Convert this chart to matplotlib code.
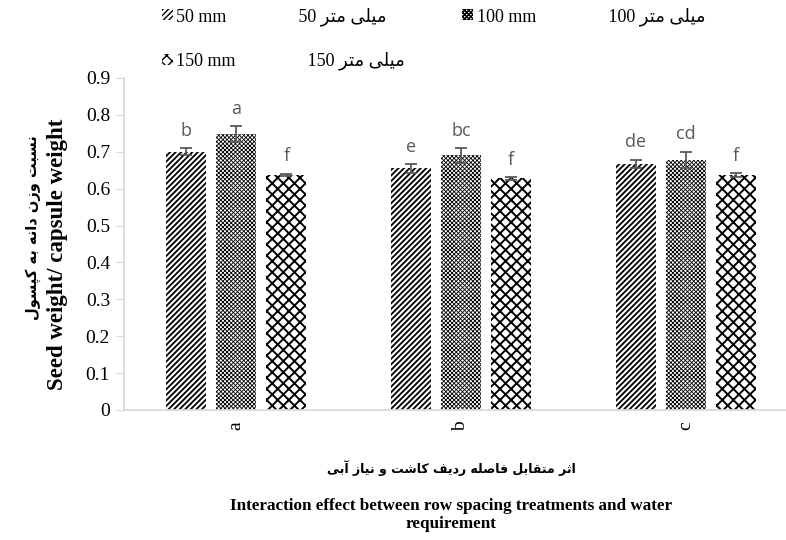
import re
import numpy as np
import matplotlib
matplotlib.use('Agg')
import matplotlib.pyplot as plt

# data
groups = ['a', 'b', 'c']
series_en = ['50 mm', '100 mm', '150 mm']
series_num = ['50', '100', '150']
values = [
    [0.700, 0.655, 0.667],   # 50 mm
    [0.748, 0.690, 0.678],   # 100 mm
    [0.637, 0.628, 0.637],   # 150 mm
]
errors = [
    [0.010, 0.012, 0.012],
    [0.022, 0.020, 0.022],
    [0.004, 0.004, 0.005],
]
letters = [
    ['b', 'e', 'de'],
    ['a', 'bc', 'cd'],
    ['f', 'f', 'f'],
]
yticks = [0, 0.1, 0.2, 0.3, 0.4, 0.5, 0.6, 0.7, 0.8, 0.9]

fa_unit = 'میلی متر'
fa_ylabel = 'نسبت وزن دانه به کپسول'
fa_xlabel = 'اثر متقابل فاصله ردیف کاشت و نیاز آبی'
en_ylabel = 'Seed weight/ capsule weight'
en_xlabel = 'Interaction effect between row spacing treatments and water\nrequirement'

# small persian shaper (no reshaper lib available)
FORMS = {
    'ا': ('\uFE8D', '\uFE8E', None, None),
    'آ': ('\uFE81', '\uFE82', None, None),
    'ب': ('\uFE8F', '\uFE90', '\uFE91', '\uFE92'),
    'پ': ('\uFB56', '\uFB57', '\uFB58', '\uFB59'),
    'ت': ('\uFE95', '\uFE96', '\uFE97', '\uFE98'),
    'ث': ('\uFE99', '\uFE9A', '\uFE9B', '\uFE9C'),
    'د': ('\uFEA9', '\uFEAA', None, None),
    'ر': ('\uFEAD', '\uFEAE', None, None),
    'ز': ('\uFEAF', '\uFEB0', None, None),
    'س': ('\uFEB1', '\uFEB2', '\uFEB3', '\uFEB4'),
    'ش': ('\uFEB5', '\uFEB6', '\uFEB7', '\uFEB8'),
    'ص': ('\uFEB9', '\uFEBA', '\uFEBB', '\uFEBC'),
    'ف': ('\uFED1', '\uFED2', '\uFED3', '\uFED4'),
    'ق': ('\uFED5', '\uFED6', '\uFED7', '\uFED8'),
    'ک': ('\uFB8E', '\uFB8F', '\uFB90', '\uFB91'),
    'ل': ('\uFEDD', '\uFEDE', '\uFEDF', '\uFEE0'),
    'م': ('\uFEE1', '\uFEE2', '\uFEE3', '\uFEE4'),
    'ن': ('\uFEE5', '\uFEE6', '\uFEE7', '\uFEE8'),
    'ه': ('\uFEE9', '\uFEEA', '\uFEEB', '\uFEEC'),
    'و': ('\uFEED', '\uFEEE', None, None),
    'ی': ('\uFBFC', '\uFBFD', '\uFBFE', '\uFBFF'),
}


def fa(text):
    out = []
    for i, ch in enumerate(text):
        if ch not in FORMS:
            out.append(ch)
            continue
        prev = text[i - 1] if i > 0 else ''
        nxt = text[i + 1] if i + 1 < len(text) else ''
        join_prev = prev in FORMS and FORMS[prev][2] is not None
        join_next = FORMS[ch][2] is not None and nxt in FORMS
        iso, fin, ini, med = FORMS[ch]
        if join_prev and join_next:
            out.append(med)
        elif join_prev:
            out.append(fin)
        elif join_next:
            out.append(ini)
        else:
            out.append(iso)
    vis = ''.join(out)[::-1]
    return re.sub(r'\d+', lambda m: m.group()[::-1], vis)


serif = ['Liberation Serif', 'DejaVu Sans']
gray = '#595959'
axis_gray = '#D9D9D9'

fig = plt.figure(figsize=(7.86, 5.40), dpi=100)
ax = fig.add_axes([124 / 786, 130 / 540, 674 / 786, 332 / 540])

hatches = ['//////', 'xxxxxxxx', 'xxx']
hatch_lw = [1.3, 0.6, 1.4]
width = 0.178
step = 0.2225
x = np.arange(len(groups))

for i in range(3):
    xs = x + (i - 1) * step
    label = series_en[i] + ' ' * 16 + fa(fa_unit + ' ' + series_num[i])
    with plt.rc_context({'hatch.linewidth': hatch_lw[i]}):
        ax.bar(xs, values[i], width, color='white', edgecolor='black',
               linewidth=0, hatch=hatches[i], label=label)
    ax.errorbar(xs, values[i], yerr=errors[i], fmt='none', ecolor=gray,
                elinewidth=1.3, capsize=4, capthick=1.3)
    for j in range(len(groups)):
        ax.annotate(letters[i][j], (xs[j], values[i][j] + errors[i][j]),
                    xytext=(0, 6), textcoords='offset points', ha='center',
                    va='bottom', fontsize=13, color=gray, family='Open Sans')

ax.set_xlim(-0.5, 2.5)
ax.set_ylim(0, 0.9)
ax.set_yticks(yticks)
ax.set_yticklabels([f'{t:g}' for t in yticks], family=serif, fontsize=14)
ax.set_xticks(x)
ax.set_xticklabels(groups, rotation=90, family=serif, fontsize=14)
ax.tick_params(axis='x', length=0, pad=8)
ax.tick_params(axis='y', length=6, color=axis_gray, pad=4)
for s in ['top', 'right']:
    ax.spines[s].set_visible(False)
for s in ['left', 'bottom']:
    ax.spines[s].set_color(axis_gray)
    ax.spines[s].set_linewidth(1.3)

# legend filled row-wise: 50, 100 / 150
order = [0, 2, 1]
handles, labels = ax.get_legend_handles_labels()
fig.legend([handles[k] for k in order], [labels[k] for k in order],
           loc='upper left', bbox_to_anchor=(162 / 786, 1 - 7 / 540), ncol=2,
           frameon=False, prop={'family': serif, 'size': 13},
           handlelength=0.6, handleheight=0.6, handletextpad=0.2,
           columnspacing=3.15, labelspacing=1.45, borderaxespad=0,
           borderpad=0)

fig.text(33 / 786, 1 - 228 / 540, fa(fa_ylabel), rotation=90, ha='center',
         va='center', fontsize=10.5, family='DejaVu Sans', fontweight='bold')
fig.text(57 / 786, 1 - 254 / 540, en_ylabel, rotation=90, ha='center',
         va='center', fontsize=16.5, family=serif, fontweight='bold')
fig.text(451 / 786, 1 - 468 / 540, fa(fa_xlabel), ha='center', va='center',
         fontsize=9, family='DejaVu Sans', fontweight='bold')
fig.text(451 / 786, 1 - 515 / 540, en_xlabel, ha='center', va='center',
         fontsize=12.3, family=serif, fontweight='bold', linespacing=1.15)

fig.savefig('out.png', dpi=100)
